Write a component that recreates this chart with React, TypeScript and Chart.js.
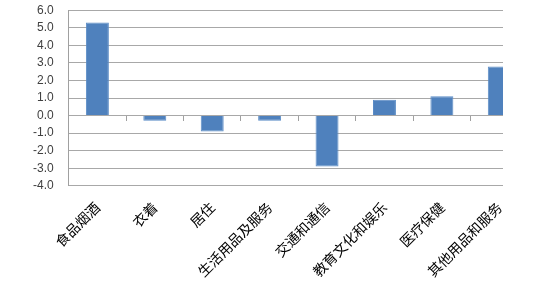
import React, { useEffect, useRef } from "react";
import { Chart, registerables } from "chart.js";

Chart.register(...registerables);

const categories = [
  "食品烟酒",
  "衣着",
  "居住",
  "生活用品及服务",
  "交通和通信",
  "教育文化和娱乐",
  "医疗保健",
  "其他用品和服务",
];
const values = [5.3, -0.3, -0.9, -0.3, -2.9, 0.9, 1.1, 2.8];
const yMin = -4;
const yMax = 6;
const yStep = 1;

// target plot area (page pixels)
const PLOT_TOP = 10;
const PLOT_BOTTOM = 186;
const CANVAS_W = 540;

function makeConfig(): any {
  return {
    type: "bar",
    data: {
      labels: categories,
      datasets: [
        {
          data: values,
          backgroundColor: "#4f81bd",
          borderColor: "#5b8cc6",
          borderWidth: 1,
          barPercentage: 0.4,
          categoryPercentage: 1,
          xAxisID: "x",
        },
      ],
    },
    options: {
      responsive: false,
      animation: false,
      layout: { padding: { left: 18, right: 12, top: 0, bottom: 0 } },
      plugins: { legend: { display: false }, tooltip: { enabled: false } },
      scales: {
        x: {
          type: "category",
          position: "bottom",
          grid: { display: false },
          border: { display: false },
          ticks: {
            maxRotation: 45,
            minRotation: 45,
            autoSkip: false,
            padding: 5,
            color: "#000000",
            font: { family: "'Noto Sans CJK SC'", size: 14 },
          },
        },
        x2: {
          type: "category",
          position: { y: 0 },
          offset: true,
          grid: {
            offset: true,
            drawOnChartArea: false,
            drawTicks: true,
            tickLength: 5,
            color: "#a0a0a0",
            lineWidth: 1,
          },
          border: { display: false },
          ticks: { display: false },
        },
        y: {
          min: yMin,
          max: yMax,
          grid: { display: true, color: "#a8a8a8", lineWidth: 1, drawTicks: false },
          border: { display: true, color: "#a0a0a0", width: 1 },
          ticks: {
            stepSize: yStep,
            autoSkip: false,
            padding: 15,
            color: "#404040",
            font: { family: "'Liberation Sans', Arial", size: 12 },
            callback: (v: any) => Number(v).toFixed(1),
          },
        },
      },
    },
  };
}

export default function App() {
  const ref = useRef<HTMLCanvasElement | null>(null);
  useEffect(() => {
    const canvas = ref.current;
    if (!canvas) return;
    canvas.width = CANVAS_W;
    canvas.height = 320;
    let chart = new Chart(canvas, makeConfig());
    const ca = chart.chartArea;
    const boxBelow = chart.height - ca.bottom;
    const offset = Math.round(PLOT_TOP - ca.top);
    const H = Math.round(PLOT_BOTTOM - offset + boxBelow);
    chart.destroy();
    canvas.width = CANVAS_W;
    canvas.height = H;
    canvas.style.position = "absolute";
    canvas.style.left = "0px";
    canvas.style.top = `${offset}px`;
    canvas.style.display = "block";
    chart = new Chart(canvas, makeConfig());
    return () => chart.destroy();
  }, []);
  return (
    <div
      style={{
        position: "absolute",
        left: 0,
        top: 0,
        width: 503,
        height: 281,
        overflow: "hidden",
        background: "#ffffff",
      }}
    >
      <canvas ref={ref} style={{ display: "block", position: "absolute", left: 0, top: 0 }} />
    </div>
  );
}
